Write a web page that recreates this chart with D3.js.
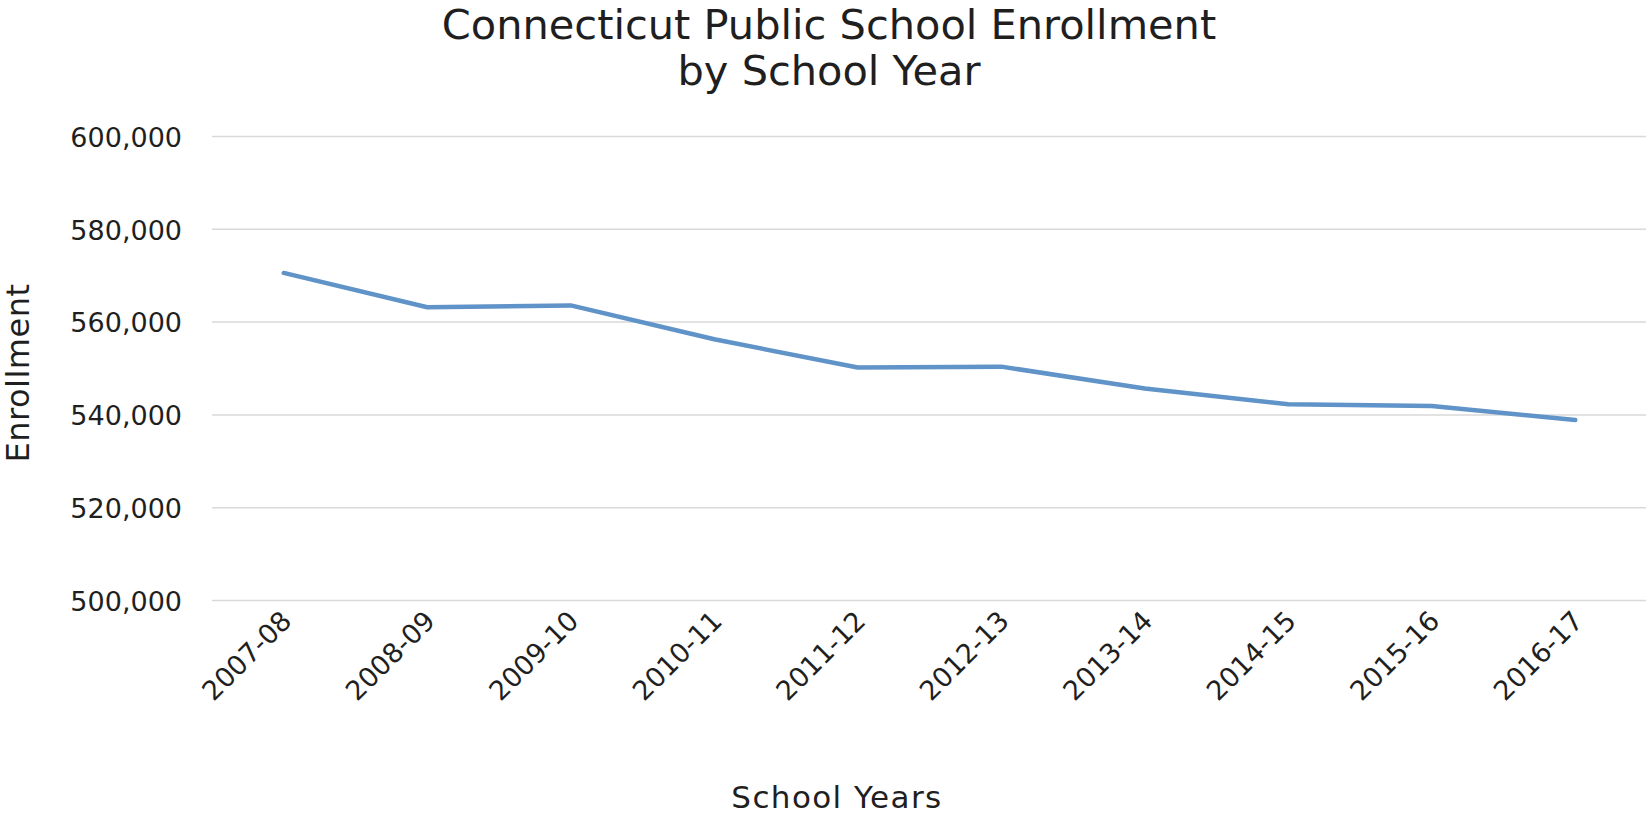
<!DOCTYPE html>
<html>
<head>
<meta charset="utf-8">
<script src="https://cdn.jsdelivr.net/npm/d3@7"></script>
<style>
  html, body { margin: 0; padding: 0; background: #fff; }
  svg text { font-family: "DejaVu Sans", sans-serif; fill: #1f1f1f; }
</style>
</head>
<body>
<svg id="chart" width="1646" height="817"></svg>
<script>
// School years shown on the x axis
const schoolYears = ["2007-08", "2008-09", "2009-10", "2010-11", "2011-12",
                     "2012-13", "2013-14", "2014-15", "2015-16", "2016-17"];
// Statewide public school enrollment for each year
const enrollment = [570600, 563200, 563600, 556300, 550200,
                    550400, 545700, 542300, 541900, 538900];
// Value axis ticks
const yTicks = [500000, 520000, 540000, 560000, 580000, 600000];

const titleLines = ["Connecticut Public School Enrollment", "by School Year"];

const svg = d3.select("#chart");
const plot = { left: 212, right: 1647, top: 136.5, bottom: 600.5 };

const x = d3.scalePoint()
  .domain(schoolYears)
  .range([plot.left, plot.right])
  .padding(0.5);

const y = d3.scaleLinear()
  .domain([500000, 600000])
  .range([plot.bottom, plot.top]);

// Horizontal gridlines
svg.append("g")
  .selectAll("line")
  .data(yTicks)
  .join("line")
  .attr("x1", plot.left)
  .attr("x2", plot.right)
  .attr("y1", d => y(d))
  .attr("y2", d => y(d))
  .attr("stroke", "#d9d9d9")
  .attr("stroke-width", 1.5);

// Value axis labels
const fmt = d3.format(",");
const yAxis = d3.axisLeft(y).tickValues(yTicks).tickFormat(fmt).tickSize(0).tickPadding(0);
const yg = svg.append("g").attr("transform", "translate(182,0)").call(yAxis);
yg.select(".domain").remove();
yg.selectAll("text")
  .attr("font-size", 27)
  .attr("font-family", "DejaVu Sans")
  .attr("fill", "#1f1f1f")
  .attr("dy", "0.36em");

// Category axis labels, rotated
const xAxis = d3.axisBottom(x).tickSize(0).tickPadding(0);
const xg = svg.append("g").attr("transform", `translate(0,${plot.bottom})`).call(xAxis);
xg.select(".domain").remove();
xg.selectAll("text")
  .attr("font-size", 27)
  .attr("font-family", "DejaVu Sans")
  .attr("fill", "#1f1f1f")
  .attr("text-anchor", "end")
  .attr("dy", 0)
  .attr("transform", "translate(9,22) rotate(-45)");

// Enrollment line
const line = d3.line()
  .x((d, i) => x(schoolYears[i]))
  .y(d => y(d));

svg.append("path")
  .datum(enrollment)
  .attr("d", line)
  .attr("fill", "none")
  .attr("stroke", "#6093c8")
  .attr("stroke-width", 4.5)
  .attr("stroke-linecap", "round")
  .attr("stroke-linejoin", "round");

// Chart title
svg.append("text")
  .attr("x", 829)
  .attr("y", 39)
  .attr("text-anchor", "middle")
  .attr("font-size", 41.5)
  .selectAll("tspan")
  .data(titleLines)
  .join("tspan")
  .attr("x", 829)
  .attr("dy", (d, i) => i === 0 ? 0 : 46)
  .text(d => d);

// Axis titles
svg.append("text")
  .attr("transform", "translate(29,373) rotate(-90)")
  .attr("text-anchor", "middle")
  .attr("font-size", 32)
  .attr("letter-spacing", 0.5)
  .text("Enrollment");

svg.append("text")
  .attr("x", 837)
  .attr("y", 808)
  .attr("text-anchor", "middle")
  .attr("font-size", 31)
  .attr("letter-spacing", 1.4)
  .text("School Years");
</script>
</body>
</html>
